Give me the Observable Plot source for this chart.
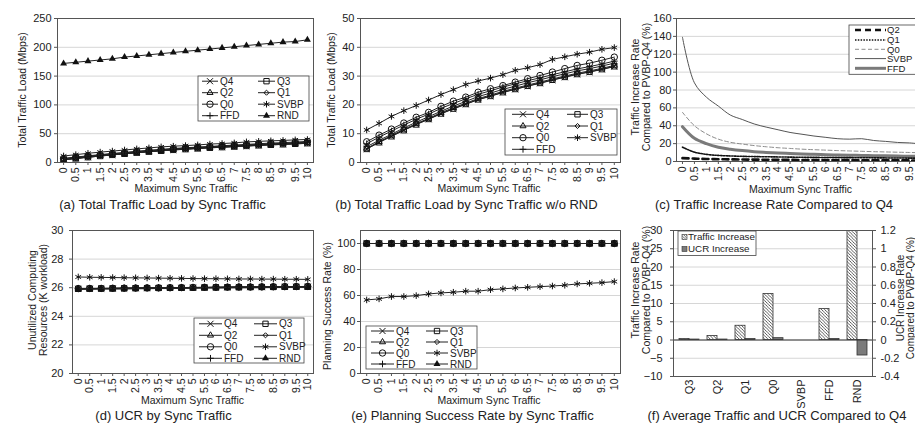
<!DOCTYPE html>
<html><head><meta charset="utf-8">
<script src="https://cdn.jsdelivr.net/npm/d3@7"></script>
<script src="https://cdn.jsdelivr.net/npm/@observablehq/plot@0.6"></script>
<style>
html,body{margin:0;padding:0;background:#fff;overflow:hidden;}
#root{position:relative;width:915px;height:423px;overflow:hidden;background:#fff;font-family:"Liberation Sans",Arial,Helvetica,sans-serif;}
.panel{position:absolute;}
.panel svg{max-width:none !important;overflow:visible;display:block;}
#overlay{position:absolute;left:0;top:0;pointer-events:none;}
</style></head><body><div id="root"></div>
<script>
// ---------------- data ----------------
const syncTraffic = [0,0.5,1,1.5,2,2.5,3,3.5,4,4.5,5,5.5,6,6.5,7,7.5,8,8.5,9,9.5,10];
const syncTickLabels = ["0","0.5","1","1.5","2","2.5","3","3.5","4","4.5","5","5.5","6","6.5","7","7.5","8","8.5","9","9.5","10"];
// ticks visible inside the (c) panel (the last one falls outside the picture)
const syncTicksC = [0,0.5,1,1.5,2,2.5,3,3.5,4,4.5,5,5.5,6,6.5,7,7.5,8,8.5,9,9.5];

// (a),(b) total traffic load (Mbps)
const loadQ4   = [4.7,7.0,9.1,11.2,13.2,15.0,16.9,18.6,20.2,21.8,23.0,24.3,25.4,26.5,27.5,28.6,29.6,30.6,31.4,32.3,33.3];
const loadQ3   = [4.7,7.0,9.1,11.2,13.2,15.1,17.0,18.7,20.3,21.9,23.1,24.4,25.5,26.6,27.6,28.7,29.7,30.7,31.5,32.4,33.4];
const loadQ2   = [4.9,7.2,9.4,11.5,13.5,15.3,17.3,19.0,20.6,22.2,23.4,24.7,25.8,26.9,27.9,29.0,30.0,31.0,31.8,32.7,33.7];
const loadQ1   = [5.5,7.7,9.8,12.0,14.0,15.9,17.8,19.6,21.2,22.9,24.1,25.4,26.5,27.7,28.7,29.8,30.8,31.8,32.6,33.5,34.5];
const loadQ0   = [7.2,9.5,11.6,13.7,15.7,17.4,19.5,21.3,22.7,24.4,25.6,26.7,27.9,29.1,30.2,31.4,32.6,33.7,34.5,35.5,36.6];
const loadSVBP = [11.3,13.6,16.0,18.0,19.8,21.7,23.6,25.3,27.1,28.3,29.3,30.5,32.0,32.9,34.0,35.8,36.7,37.6,38.3,39.3,39.9];
const loadFFD  = [6.5,8.8,10.9,13.0,15.0,16.8,18.8,20.5,22.1,23.7,24.9,26.2,27.3,28.4,29.4,30.5,31.5,32.5,33.3,34.2,35.2];
const loadRND  = [172,174,176,178,180,183,185,187,189,191,193,195,197,199,201,203,205,207,209,210,213];

// (c) traffic increase rate compared to Q4 (%)
const rateQ2   = [3.8,3.2,2.8,2.6,2.4,2.2,2.1,2.0,1.9,1.8,1.7,1.6,1.6,1.5,1.5,1.4,1.4,1.3,1.3,1.2,1.2];
const rateQ1   = [16,10.5,8,6.8,6.2,5.8,5.5,5.3,5.1,4.9,4.7,4.6,4.5,4.4,4.3,4.2,4.1,4.0,3.9,3.8,3.7];
const rateQ0   = [55,40,31,25,21.5,19.5,17.8,16.5,15.4,14.6,13.8,13.2,12.7,12.2,11.8,11.4,11,10.7,10.4,10.1,9.8];
const rateSVBP = [139,88,72,62,52,47,42,38.5,35.5,32.5,30.5,28.5,27,25.5,25,25.5,23.5,22.5,21.3,20.8,19.5];
const rateFFD  = [39,26,20,16,13.8,12.2,11,10.2,9.5,8.9,8.4,8.0,7.6,7.3,7.0,6.8,6.5,6.3,6.1,5.9,5.7];

// (d) UCR (K workload)
const ucrQ4   = [25.92,25.93,25.94,25.94,25.95,25.96,25.97,25.98,25.98,25.99,26.00,26.01,26.02,26.02,26.03,26.04,26.04,26.05,26.06,26.06,26.07];
const ucrQ3   = [25.92,25.93,25.94,25.95,25.95,25.96,25.97,25.98,25.99,25.99,26.00,26.01,26.02,26.03,26.03,26.04,26.05,26.05,26.06,26.07,26.07];
const ucrQ2   = [25.93,25.93,25.94,25.95,25.96,25.96,25.97,25.98,25.99,26.00,26.00,26.01,26.02,26.03,26.04,26.04,26.05,26.06,26.06,26.07,26.08];
const ucrQ1   = [25.93,25.94,25.95,25.95,25.96,25.97,25.98,25.99,25.99,26.00,26.01,26.02,26.03,26.03,26.04,26.05,26.05,26.06,26.07,26.07,26.08];
const ucrQ0   = [25.94,25.95,25.95,25.96,25.97,25.98,25.99,25.99,26.00,26.01,26.02,26.03,26.03,26.04,26.05,26.05,26.06,26.07,26.08,26.08,26.09];
const ucrSVBP = [26.75,26.73,26.72,26.71,26.70,26.69,26.68,26.67,26.66,26.65,26.64,26.63,26.63,26.62,26.61,26.61,26.60,26.60,26.59,26.59,26.58];
const ucrFFD  = [25.93,25.94,25.94,25.95,25.96,25.97,25.98,25.98,25.99,26.00,26.01,26.02,26.02,26.03,26.04,26.04,26.05,26.06,26.06,26.07,26.08];
const ucrRND  = [25.88,25.89,25.90,25.90,25.91,25.92,25.93,25.94,25.94,25.95,25.96,25.97,25.97,25.98,25.99,25.99,26.00,26.01,26.01,26.02,26.02];

// (e) planning success rate (%)
const successQ4   = [100,100,100,100,100,100,100,100,100,100,100,100,100,100,100,100,100,100,100,100,100];
const successQ3   = [100,100,100,100,100,100,100,100,100,100,100,100,100,100,100,100,100,100,100,100,100];
const successQ2   = [100,100,100,100,100,100,100,100,100,100,100,100,100,100,100,100,100,100,100,100,100];
const successQ1   = [100,100,100,100,100,100,100,100,100,100,100,100,100,100,100,100,100,100,100,100,100];
const successQ0   = [100,100,100,100,100,100,100,100,100,100,100,100,100,100,100,100,100,100,100,100,100];
const successSVBP = [56.6,57.4,59.2,59.2,59.9,61.2,62.0,62.5,63.3,63.3,64.5,65.1,65.8,66.3,66.8,67.3,67.9,68.9,69.4,69.9,70.7];
const successFFD  = [100,100,100,100,100,100,100,100,100,100,100,100,100,100,100,100,100,100,100,100,100];
const successRND  = [100,100,100,100,100,100,100,100,100,100,100,100,100,100,100,100,100,100,100,100,100];

// (f) average traffic and UCR increase compared to Q4
const algos = ["Q3","Q2","Q1","Q0","SVBP","FFD","RND"];
const avgTrafficIncrease = [0.25,1.1,3.9,12.6,null,8.5,30];
const avgUcrIncrease     = [0.005,0.005,0.01,0.02,null,0.01,-0.17];

// tick values
const ticksA = [0,50,100,150,200,250];
const ticksB = [0,10,20,30,40,50];
const ticksC = [0,20,40,60,80,100,120,140,160];
const ticksD = [20,22,24,26,28,30];
const ticksE = [0,20,40,60,80,100];
const ticksF = [-10,-5,0,5,10,15,20,25,30];

// ---------------- styling ----------------
const FONT = '"Liberation Sans", Arial, Helvetica, sans-serif';
const INK = "#222";
const LEGEND_FS = 10;
const markerStyle = {
  Q4:   {symbol:"times",     r:2.85, fill:"none"},
  Q3:   {symbol:"square2",   r:3.4,  fill:"none"},
  Q2:   {symbol:"triangle2", r:2.9,  fill:"none"},
  Q1:   {symbol:"diamond2",  r:2.3,  fill:"none"},
  Q0:   {symbol:"circle",    r:3.2,  fill:"none"},
  SVBP: {symbol:"asterisk",  r:3.1,  fill:"none"},
  FFD:  {symbol:"plus",      r:2.3,  fill:"none"},
  RND:  {symbol:"triangle",  r:2.6,  fill:"#111"}
};
const d3Sym = {times:d3.symbolTimes, square2:d3.symbolSquare2, triangle2:d3.symbolTriangle2, diamond2:d3.symbolDiamond2,
  circle:d3.symbolCircle, asterisk:d3.symbolAsterisk, plus:d3.symbolPlus, triangle:d3.symbolTriangle};
const rateStyle = {
  SVBP: {stroke:"#555", strokeWidth:1},
  Q0:   {stroke:"#8c8c8c", strokeWidth:1, strokeDasharray:"4,2.5"},
  FFD:  {stroke:"#7a7a7a", strokeWidth:3},
  Q1:   {stroke:"#111", strokeWidth:1.6, strokeDasharray:"1.5,1.3"},
  Q2:   {stroke:"#111", strokeWidth:2.6, strokeDasharray:"6,4"}
};

function tidy(obj) {
  return Object.entries(obj).flatMap(([name, arr]) => arr.map((v, i) => ({x: syncTraffic[i], y: v, series: name})));
}

const root = document.getElementById("root");
function place(svg, left, top) {
  const div = document.createElement("div");
  div.className = "panel";
  div.style.left = left + "px";
  div.style.top = top + "px";
  div.appendChild(svg);
  root.appendChild(div);
}
const baseStyle = {fontFamily: FONT, fontSize: "11px", background: "transparent", color: INK, overflow: "visible"};

function xAxisSync(ticks = syncTraffic, fs = 10.5) {
  return Plot.axisX(ticks, {
    tickFormat: d => syncTickLabels[syncTraffic.indexOf(d)],
    tickRotate: -90, textAnchor: "end", lineAnchor: "middle",
    tickSize: 3, tickPadding: 2, label: null, fontSize: fs, stroke: "#555", fill: INK
  });
}

function markerPanel({left, top, width, height, m, yDomain, yTicks, series, yPad = 3}) {
  const marks = [Plot.gridY(yTicks, {stroke: "#d6d6d6", strokeOpacity: 1})];
  for (const [name, arr] of Object.entries(series)) {
    const data = tidy({[name]: arr});
    const ms = markerStyle[name];
    marks.push(Plot.line(data, {x: "x", y: "y", stroke: "#222", strokeWidth: 1}));
    marks.push(Plot.dot(data, ms.fill === "none"
      ? {x: "x", y: "y", symbol: ms.symbol, r: ms.r, fill: "none", stroke: "#111", strokeWidth: 1}
      : {x: "x", y: "y", symbol: ms.symbol, r: ms.r, fill: ms.fill, stroke: "none"}));
  }
  marks.push(Plot.axisY(yTicks, {tickSize: 3, tickPadding: yPad, label: null, fontSize: 11, stroke: "#555", fill: INK}));
  marks.push(xAxisSync());
  marks.push(Plot.frame({stroke: "#555"}));
  const svg = Plot.plot({
    width, height, marginTop: m[0], marginRight: m[1], marginBottom: m[2], marginLeft: m[3],
    x: {domain: [-0.25, 10.25]}, y: {domain: yDomain},
    style: baseStyle, marks
  });
  place(svg, left, top);
}

// (a)
markerPanel({left: 0, top: 0, width: 320, height: 200, m: [18, 7, 38, 57], yDomain: [0, 250], yTicks: ticksA,
  series: {RND: loadRND, Q4: loadQ4, Q3: loadQ3, Q2: loadQ2, Q1: loadQ1, FFD: loadFFD, Q0: loadQ0, SVBP: loadSVBP}});
// (b)
markerPanel({left: 305, top: 0, width: 320, height: 200, m: [18, 5, 38, 55], yDomain: [0, 50], yTicks: ticksB,
  series: {Q4: loadQ4, Q3: loadQ3, Q2: loadQ2, Q1: loadQ1, FFD: loadFFD, Q0: loadQ0, SVBP: loadSVBP}});
// (d)
markerPanel({left: 0, top: 210, width: 320, height: 190, m: [20, 7, 27, 72], yDomain: [20, 30], yTicks: ticksD, yPad: 6,
  series: {SVBP: ucrSVBP, Q0: ucrQ0, Q1: ucrQ1, Q2: ucrQ2, Q3: ucrQ3, FFD: ucrFFD, RND: ucrRND, Q4: ucrQ4}});
// (e)
markerPanel({left: 305, top: 210, width: 320, height: 190, m: [20, 5, 27, 55], yDomain: [0, 110], yTicks: ticksE, yPad: 2,
  series: {SVBP: successSVBP, Q0: successQ0, Q1: successQ1, Q2: successQ2, Q3: successQ3, FFD: successFFD, RND: successRND, Q4: successQ4}});

// (c)
{
  const rates = {SVBP: rateSVBP, Q0: rateQ0, FFD: rateFFD, Q1: rateQ1, Q2: rateQ2};
  const marks = [Plot.gridY(ticksC, {stroke: "#d6d6d6", strokeOpacity: 1})];
  for (const [name, arr] of Object.entries(rates)) {
    marks.push(Plot.line(tidy({[name]: arr}), {x: "x", y: "y", curve: "catmull-rom", ...rateStyle[name]}));
  }
  marks.push(Plot.axisY(ticksC, {tickSize: 3, tickPadding: 2, label: null, fontSize: 11, stroke: "#555", fill: INK}));
  marks.push(xAxisSync(syncTicksC));
  marks.push(Plot.frame({stroke: "#555"}));
  const svg = Plot.plot({
    width: 320, height: 200, marginTop: 18, marginRight: 3, marginBottom: 39, marginLeft: 66,
    x: {domain: [-0.25, 10.25]}, y: {domain: [0, 160]},
    style: baseStyle, marks
  });
  place(svg, 610, 0);
}

// (f)
{
  const fData = algos.map((a, i) => ({algo: a, traffic: avgTrafficIncrease[i], ucr: avgUcrIncrease[i]}));
  const ucrRatio = 25; // secondary axis: 1.2 on the right ↔ 30 on the left
  const halfBand = 10;
  const defs = () => {
    const d = d3.create("svg:defs");
    const p = d.append("pattern").attr("id", "hatchF").attr("patternUnits", "userSpaceOnUse").attr("width", 3.2).attr("height", 3.2);
    p.append("rect").attr("width", 3.2).attr("height", 3.2).attr("fill", "#fff");
    p.append("path").attr("d", "M-0.8,-0.8L4,4M-0.8,2.4L0.8,4M2.4,-0.8L4,0.8").attr("stroke", "#333").attr("stroke-width", 0.8);
    return d.node();
  };
  const svg = Plot.plot({
    width: 305, height: 190, marginTop: 20, marginRight: 43, marginBottom: 24, marginLeft: 63,
    x: {domain: algos, paddingInner: 0.3, paddingOuter: 0.15},
    y: {domain: [-10, 30]},
    style: baseStyle,
    marks: [
      defs,
      Plot.gridY(ticksF, {stroke: "#d6d6d6", strokeOpacity: 1}),
      Plot.barY(fData.filter(d => d.traffic != null), {x: "algo", y: "traffic", fill: "url(#hatchF)", stroke: "#333", strokeWidth: 0.8, insetRight: halfBand, clip: true}),
      Plot.barY(fData.filter(d => d.ucr != null), {x: "algo", y: d => d.ucr * ucrRatio, fill: "#7b7b7b", stroke: "#333", strokeWidth: 0.8, insetLeft: halfBand}),
      Plot.ruleY([0], {stroke: "#333", strokeWidth: 1}),
      Plot.axisY(ticksF, {tickSize: 3, tickPadding: 8, label: null, fontSize: 11, stroke: "#555", fill: INK}),
      Plot.axisY(ticksF, {anchor: "right", tickSize: 3, tickPadding: 5, label: null, fontSize: 11, stroke: "#555", fill: INK,
        tickFormat: d => String(Math.round(d / ucrRatio * 10) / 10)}),
      Plot.axisX({tickRotate: -90, textAnchor: "end", lineAnchor: "middle", tickSize: 0, tickPadding: 3, label: null, fontSize: 11, fill: INK}),
      Plot.frame({stroke: "#555"})
    ]
  });
  place(svg, 610, 210);
}

// ---------------- overlay: titles, captions, legends ----------------
const ov = d3.select(root).append("svg").attr("id", "overlay").attr("width", 915).attr("height", 423)
  .attr("font-family", FONT).attr("fill", INK);
{
  const p = ov.append("defs").append("pattern").attr("id", "hatchL").attr("patternUnits", "userSpaceOnUse").attr("width", 2.4).attr("height", 2.4);
  p.append("rect").attr("width", 2.4).attr("height", 2.4).attr("fill", "#fff");
  p.append("path").attr("d", "M-0.6,-0.6L3,3M-0.6,1.8L0.6,3M1.8,-0.6L3,0.6").attr("stroke", "#333").attr("stroke-width", 0.7);
}
function text(x, y, s, size, anchor = "middle") {
  ov.append("text").attr("x", x).attr("y", y).attr("font-size", size).attr("text-anchor", anchor).text(s);
}
function vtext(cx, cy, s, size = 10.5) {
  ov.append("text").attr("transform", `translate(${cx},${cy}) rotate(-90)`).attr("dy", "0.35em")
    .attr("font-size", size).attr("text-anchor", "middle").text(s);
}
// captions
text(162.5, 209, "(a) Total Traffic Load by Sync Traffic", 13);
text(466.5, 209, "(b) Total Traffic Load by Sync Traffic w/o RND", 13);
text(774, 209, "(c) Traffic Increase Rate Compared to Q4", 13);
text(163.5, 420, "(d) UCR by Sync Traffic", 13);
text(472.5, 420, "(e) Planning Success Rate by Sync Traffic", 13);
text(777, 420, "(f) Average Traffic  and UCR Compared to Q4", 13);
// x titles
text(186, 192, "Maximum Sync Traffic", 10.5);
text(489, 192, "Maximum Sync Traffic", 10.5);
text(800.5, 193, "Maximum Sync Traffic", 10.5);
text(192.5, 404, "Maximum Sync Traffic", 10.5);
text(489, 404, "Maximum Sync Traffic", 10.5);
// y titles
vtext(22.5, 90, "Total Traffic Load (Mbps)");
vtext(331.5, 90, "Total Traffic Load (Mbps)");
vtext(635, 87, "Traffic Increase Rate");
vtext(646, 87, "Compared to PVBP-Q4 (%)");
vtext(32, 300, "Unutilized Computing");
vtext(43, 300, "Resources (K workload)");
vtext(327.5, 306, "Planning Success Rate (%)");
vtext(635, 290, "Traffic Increase Rate");
vtext(646, 290, "Compared to PVBP-Q4 (%)");
vtext(900, 298, "UCR Increase Rate", 10);
vtext(910, 298, "Compared to PVBP-Q4 (%)", 10);

// legends
function markerLegend(o) {
  const g = ov.append("g");
  g.append("rect").attr("x", o.x).attr("y", o.y).attr("width", o.w).attr("height", o.h)
    .attr("fill", "#fff").attr("stroke", "#444").attr("stroke-width", 0.8);
  o.items.forEach((name, k) => {
    const cy = o.rows[Math.floor(k / 2)], c = o.cols[k % 2];
    g.append("line").attr("x1", c[0]).attr("x2", c[1]).attr("y1", cy).attr("y2", cy).attr("stroke", "#222").attr("stroke-width", 1);
    const ms = markerStyle[name];
    g.append("path").attr("transform", `translate(${(c[0] + c[1]) / 2},${cy})`)
      .attr("d", d3.symbol().type(d3Sym[ms.symbol]).size(Math.PI * ms.r * ms.r)())
      .attr("fill", ms.fill === "none" ? "none" : ms.fill)
      .attr("stroke", ms.fill === "none" ? "#111" : "none").attr("stroke-width", 1);
    g.append("text").attr("x", c[2]).attr("y", cy).attr("dy", "0.35em").attr("font-size", LEGEND_FS).text(name);
  });
}
const items8 = ["Q4", "Q3", "Q2", "Q1", "Q0", "SVBP", "FFD", "RND"];
markerLegend({x: 198, y: 76, w: 111, h: 45, rows: [81.2, 92.7, 104.2, 115.7], cols: [[202, 218, 220], [258, 275, 277]], items: items8});
markerLegend({x: 505, y: 109, w: 112, h: 46, rows: [114.3, 126, 137.7, 149.3], cols: [[512, 534, 536], [567, 588, 590]], items: items8.slice(0, 7)});
markerLegend({x: 194, y: 318, w: 110, h: 45, rows: [323.8, 335.3, 346.8, 358.3], cols: [[199, 222, 224], [254, 277, 279]], items: items8});
markerLegend({x: 366, y: 326, w: 111, h: 43, rows: [331, 342, 353, 364], cols: [[371, 394, 396], [426, 448, 450]], items: items8});

{ // (c) legend
  const g = ov.append("g");
  g.append("rect").attr("x", 849).attr("y", 25).attr("width", 80).attr("height", 49.3)
    .attr("fill", "#fff").attr("stroke", "#444").attr("stroke-width", 0.8);
  const order = ["Q2", "Q1", "Q0", "SVBP", "FFD"];
  const rows = [30, 40, 49.3, 58.6, 68.3];
  order.forEach((name, k) => {
    const s = rateStyle[name];
    g.append("line").attr("x1", 855).attr("x2", 886).attr("y1", rows[k]).attr("y2", rows[k])
      .attr("stroke", s.stroke).attr("stroke-width", s.strokeWidth).attr("stroke-dasharray", s.strokeDasharray || null);
    g.append("text").attr("x", 887).attr("y", rows[k]).attr("dy", "0.35em").attr("font-size", 9.5).text(name);
  });
}
{ // (f) legend
  const g = ov.append("g");
  g.append("rect").attr("x", 678).attr("y", 231).attr("width", 78).attr("height", 24.5)
    .attr("fill", "#fff").attr("stroke", "#444").attr("stroke-width", 0.8);
  g.append("rect").attr("x", 682).attr("y", 234.5).attr("width", 5).attr("height", 5).attr("fill", "url(#hatchL)").attr("stroke", "#333").attr("stroke-width", 0.6);
  g.append("text").attr("x", 688).attr("y", 237).attr("dy", "0.35em").attr("font-size", 9.8).text("Traffic Increase");
  g.append("rect").attr("x", 682).attr("y", 246.5).attr("width", 5).attr("height", 5).attr("fill", "#7b7b7b").attr("stroke", "#333").attr("stroke-width", 0.6);
  g.append("text").attr("x", 688).attr("y", 249).attr("dy", "0.35em").attr("font-size", 9.8).text("UCR Increase");
}
</script></body></html>
